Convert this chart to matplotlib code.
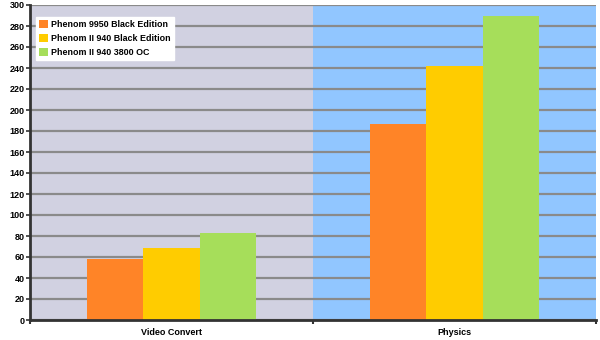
import matplotlib
matplotlib.use("Agg")
import matplotlib.pyplot as plt
import numpy as np

categories = ["Video Convert", "Physics"]
series_names = ["Phenom 9950 Black Edition", "Phenom II 940 Black Edition", "Phenom II 940 3800 OC"]
series_values = [
    [58, 187],
    [69, 242],
    [83, 290],
]
series_colors = ["#FF8427", "#FFCC00", "#A6DE5A"]
region_colors = ["#D1D1E1", "#91C6FF"]
y_ticks = list(range(0, 301, 20))

plt.rcParams["font.family"] = ["Liberation Sans", "DejaVu Sans"]
plt.rcParams["font.weight"] = "bold"

fig = plt.figure(figsize=(6.0, 3.4), dpi=100)
ax = fig.add_axes([30 / 600, 20 / 340, 566 / 600, 315 / 340])

x = np.arange(len(categories))
for i, c in enumerate(region_colors):
    ax.axvspan(i - 0.5, i + 0.5, color=c, zorder=0, lw=0)

ax.set_yticks(y_ticks)
ax.yaxis.grid(True, color="#8A8A8A", lw=1.6, zorder=1)
ax.set_axisbelow(True)

width = 0.2
for k, (name, vals, col) in enumerate(zip(series_names, series_values, series_colors)):
    ax.bar(x + (k - 1) * width, vals, width, color=col, label=name, zorder=2, lw=0)

ax.set_xlim(-0.5, len(categories) - 0.5)
ax.set_ylim(0, 300)
ax.set_xticks(x)
ax.set_xticklabels(categories, fontsize=6.5, fontweight="bold")
ax.tick_params(axis="x", length=0, pad=6)
ax.set_xticks([-0.5, 0.5, 1.5], minor=True)
ax.tick_params(axis="x", which="minor", length=3, width=1.5, color="#333333", direction="out")
ax.tick_params(axis="y", labelsize=6.5, length=3, width=1.2, color="#333333", pad=1)
for lbl in ax.get_yticklabels():
    lbl.set_fontweight("bold")

for side in ["top", "right"]:
    ax.spines[side].set_visible(False)
ax.spines["left"].set_linewidth(2)
ax.spines["left"].set_color("#333333")
ax.spines["bottom"].set_linewidth(2)
ax.spines["bottom"].set_color("#333333")

leg = ax.legend(loc="upper left", bbox_to_anchor=(0.011, 0.962), frameon=True, fancybox=False,
                framealpha=1, edgecolor="white", prop={"size": 6.4, "weight": "bold"},
                handlelength=0.95, handleheight=1.0, handletextpad=0.35, borderpad=0.35,
                labelspacing=0.55, borderaxespad=0)
leg.set_zorder(5)

fig.savefig("out.png", dpi=100)
